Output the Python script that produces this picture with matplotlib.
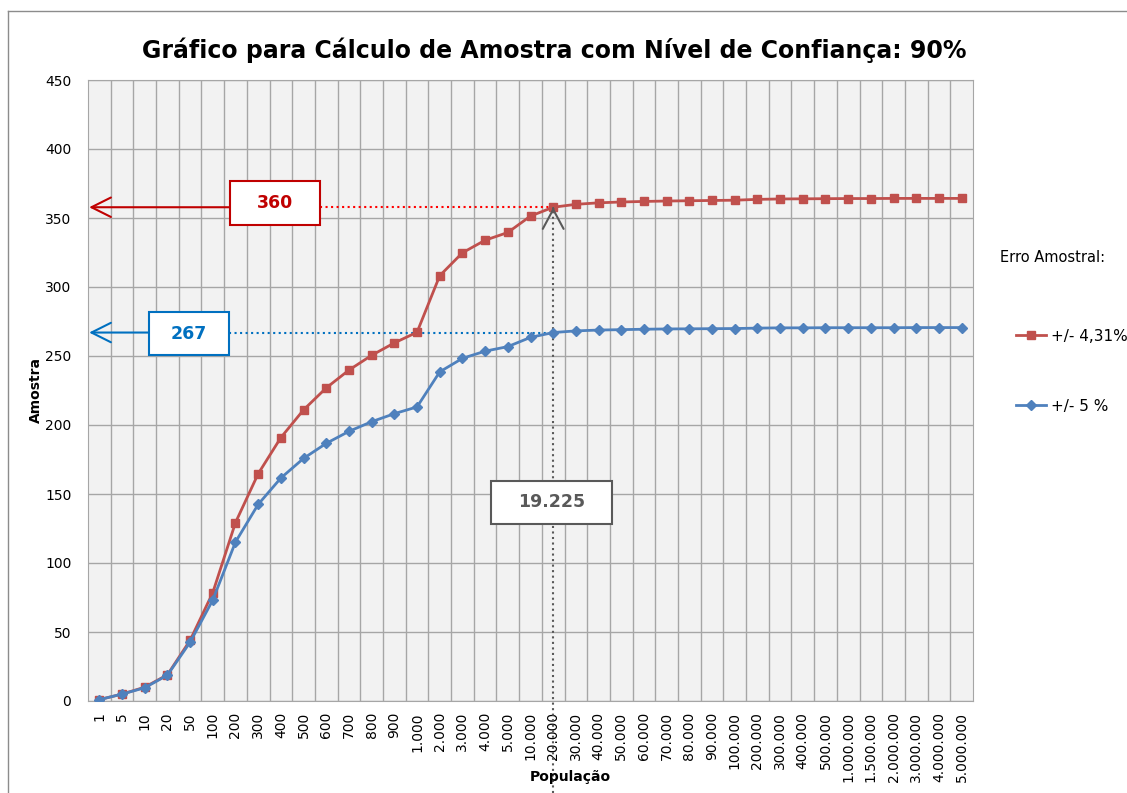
import matplotlib
matplotlib.use("Agg")
import matplotlib.pyplot as plt
from matplotlib.patches import Rectangle
from matplotlib.lines import Line2D
import numpy as np

W, H = 1127, 793

populacao = ["1", "5", "10", "20", "50", "100", "200", "300", "400", "500", "600", "700",
             "800", "900", "1.000", "2.000", "3.000", "4.000", "5.000", "10.000", "20.000",
             "30.000", "40.000", "50.000", "60.000", "70.000", "80.000", "90.000", "100.000",
             "200.000", "300.000", "400.000", "500.000", "1.000.000", "1.500.000",
             "2.000.000", "3.000.000", "4.000.000", "5.000.000"]

# erro amostral +/- 4,31%
amostra_431 = [1, 5, 10, 19, 44, 78.6, 129.3, 164.7, 190.9, 211.0, 226.9, 239.8, 250.5,
               259.5, 267.2, 308.2, 324.8, 333.9, 339.5, 351.4, 357.8, 359.9, 361.0, 361.6,
               362.0, 362.3, 362.5, 362.7, 362.9, 363.5, 363.8, 363.9, 364.0, 364.1, 364.1,
               364.2, 364.2, 364.2, 364.2]

# erro amostral +/- 5%
amostra_5 = [1, 5, 9.6, 18.7, 42.6, 73.2, 115.2, 142.5, 161.6, 175.8, 186.7, 195.4, 202.4,
             208.2, 213.1, 238.5, 248.3, 253.5, 256.8, 263.5, 267.0, 268.2, 268.8, 269.1,
             269.4, 269.6, 269.7, 269.8, 269.9, 270.2, 270.4, 270.4, 270.5, 270.5, 270.5,
             270.5, 270.6, 270.6, 270.6]

legenda = ["+/- 4,31%", "+/- 5 %"]
idx_destaque = 20  # 20.000
rotulo_pop = "19.225"
rotulo_431 = "360"
rotulo_5 = "267"

RED = "#C0504D"
BLUE = "#4F81BD"
DARKRED = "#C00000"
DARKBLUE = "#0070C0"
GRAY = "#595959"
GRID = "#A6A6A6"


def fx(x):
    return x / W


def fy(y):
    return 1 - y / H


fig = plt.figure(figsize=(W / 100, H / 100), dpi=100)
ax = fig.add_axes([fx(88), fy(701), (973 - 88) / W, (701 - 80) / H])
ax.set_facecolor("#F2F2F2")

x = np.arange(len(populacao))
ax.plot(x, amostra_431, color=RED, lw=2, marker="s", markersize=5.5, label=legenda[0], zorder=4)
ax.plot(x, amostra_5, color=BLUE, lw=2, marker="D", markersize=5, label=legenda[1], zorder=4)

ax.set_xlim(-0.5, len(populacao) - 0.5)
ax.set_ylim(0, 450)
ax.set_yticks(np.arange(0, 451, 50))
ax.set_xticks(x)
ax.set_xticklabels(populacao, rotation=90, fontsize=10)
ax.set_xticks(x[:-1] + 0.5, minor=True)
ax.tick_params(axis="x", which="both", length=0, pad=8)
ax.tick_params(axis="y", length=0, pad=12, labelsize=10)
ax.grid(axis="y", color=GRID, lw=1)
ax.grid(axis="x", which="minor", color=GRID, lw=1)
ax.set_axisbelow(True)
for s in ax.spines.values():
    s.set_color(GRID)

# titulos
fig.text(fx(554), fy(50), "Gráfico para Cálculo de Amostra com Nível de Confiança: 90%",
         ha="center", va="center", fontsize=17, fontweight="bold")
fig.text(fx(36), fy(390), "Amostra", rotation=90, ha="center", va="center",
         fontsize=10, fontweight="bold")
fig.text(fx(570), fy(777), "População", ha="center", va="center", fontsize=10,
         fontweight="bold")

# legenda
fig.text(fx(1000), fy(257), "Erro Amostral:", ha="left", va="center", fontsize=10.5)
fig.legend(loc="upper left", bbox_to_anchor=(fx(1008), fy(321)), frameon=False,
           fontsize=11, labelspacing=3.6, handlelength=2.0, handletextpad=0.3,
           borderpad=0)

# anotacoes
y431 = amostra_431[idx_destaque]
y5 = amostra_5[idx_destaque]

ax.plot([9.72, idx_destaque], [y431, y431], color="#FF0000", lw=1.5, ls=":", zorder=3)
ax.plot([5.71, idx_destaque], [y5, y5], color=DARKBLUE, lw=1.5, ls=":", zorder=3)
ax.plot([idx_destaque, idx_destaque], [-67, y431], color=GRAY, lw=1.5, ls=":",
        clip_on=False, zorder=3)

ax.annotate("", xy=(-0.45, y431), xytext=(5.76, y431), annotation_clip=False,
            arrowprops=dict(arrowstyle="->,head_length=1.4,head_width=0.7",
                            color=DARKRED, lw=1.5, shrinkA=0, shrinkB=0))
ax.annotate("", xy=(-0.45, y5), xytext=(2.19, y5), annotation_clip=False,
            arrowprops=dict(arrowstyle="->,head_length=1.4,head_width=0.7",
                            color=DARKBLUE, lw=1.5, shrinkA=0, shrinkB=0))
ax.annotate("", xy=(idx_destaque, y431), xytext=(idx_destaque, y431 - 1),
            arrowprops=dict(arrowstyle="->,head_length=1.4,head_width=0.75",
                            color=GRAY, lw=1.5, shrinkA=0, shrinkB=0), zorder=5)

caixas = [
    (5.76, 344.7, 9.72, 376.6, rotulo_431, DARKRED, DARKRED),
    (2.19, 250.4, 5.71, 281.6, rotulo_5, DARKBLUE, DARKBLUE),
    (17.26, 128.4, 22.59, 159.7, rotulo_pop, GRAY, GRAY),
]
for x0, y0, x1, y1, txt, ec, tc in caixas:
    ax.add_patch(Rectangle((x0, y0), x1 - x0, y1 - y0, facecolor="white", edgecolor=ec,
                           lw=1.5, zorder=6))
    ax.text((x0 + x1) / 2, (y0 + y1) / 2, txt, ha="center", va="center", fontsize=12.5,
            fontweight="bold", color=tc, zorder=7)

# moldura do grafico
fig.add_artist(Line2D([fx(8), 1], [fy(11), fy(11)], color="#8C8C8C", lw=1))
fig.add_artist(Line2D([fx(8), fx(8)], [fy(11), 0], color="#8C8C8C", lw=1))

fig.savefig("out.png", dpi=100)
